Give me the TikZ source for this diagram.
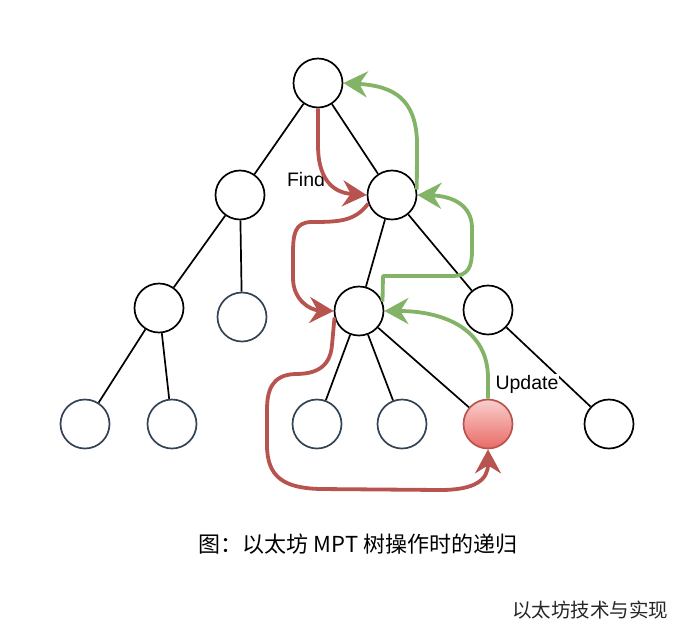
\documentclass[tikz,border=0pt]{standalone}
\usepackage{fontspec}
\setmainfont{Liberation Sans}
\newfontfamily\cjk{Noto Sans CJK SC}
\usetikzlibrary{arrows.meta}
\definecolor{redline}{HTML}{B85450}
\definecolor{greenline}{HTML}{82B366}
\definecolor{darkblue}{HTML}{314354}
\definecolor{redtop}{HTML}{F8CECC}
\definecolor{redbot}{HTML}{EA6B66}
\tikzset{
  nd/.style={circle, draw=black, line width=1.7pt, minimum size=49pt, inner sep=0pt, fill=white},
  ndd/.style={nd, draw=darkblue},
  ndr/.style={nd, draw=redline, top color=redtop, bottom color=redbot},
  edge/.style={line width=1.7pt, black},
  tip/.style={-{Stealth[length=24pt, width=26pt, inset=8pt]}},
  redarrow/.style={tip, draw=redline, line width=3.8pt, line join=round},
  greenarrow/.style={tip, draw=greenline, line width=3.8pt, line join=round},
  lbl/.style={font=\fontsize{19.5}{22}\selectfont, inner sep=0.5pt, fill=white}
}
\begin{document}
\begin{tikzpicture}[x=1pt, y=-1pt]
\useasboundingbox (0,0) rectangle (680,630);
% nodes
\node[nd]  (root) at (318,83) {};
\node[nd]  (l1a)  at (240,195) {};
\node[nd]  (l1b)  at (392,195) {};
\node[nd]  (l2a)  at (159,308) {};
\node[ndd] (l2b)  at (242,317) {};
\node[nd]  (l2c)  at (359,311) {};
\node[nd]  (l2d)  at (488,310) {};
\node[ndd] (l3a)  at (85,424) {};
\node[ndd] (l3b)  at (172,424) {};
\node[ndd] (l3c)  at (317,424) {};
\node[ndd] (l3d)  at (402,424) {};
\node[ndr] (red)  at (488,424) {};
\node[nd]  (l3f)  at (609,424) {};
% edges
\draw[edge] (root) -- (l1a);
\draw[edge] (root) -- (l1b);
\draw[edge] (l1a) -- (l2a);
\draw[edge] (l1a) -- (l2b);
\draw[edge] (l1b) -- (l2c);
\draw[edge] (l1b) -- (l2d);
\draw[edge] (l2a) -- (l3a);
\draw[edge] (l2a) -- (l3b);
\draw[edge] (l2c) -- (l3c);
\draw[edge] (l2c) -- (l3d);
\draw[edge] (l2c) -- (red);
\draw[edge] (l2d) -- (l3f);
% labels
\node[lbl] (find) at (306,180) {Find};
\node[lbl] (upd) at (527,384) {Update};
% red arrows
\draw[redarrow] (root.south) -- (318,145) .. controls (318,185) and (338,193) .. (l1b.west);
\draw[redarrow] (l1b.200) .. controls (355,221) and (340,222) .. (312,222)
  .. controls (294,222) and (293,235) .. (293,255) -- (293,278)
  .. controls (293,300) and (310,310) .. (l2c.west);
\draw[redarrow] (l2c.195) -- (332,345) .. controls (330,370) and (312,374) .. (295,374)
  .. controls (272,375) and (267,390) .. (267,410) -- (267,445)
  .. controls (267,478) and (285,488) .. (320,489) -- (440,490)
  .. controls (475,490) and (488,480) .. (red.south);
% green arrows
\draw[greenarrow] (l1b.12) -- (417,140) .. controls (415,100) and (395,86) .. (root.east);
\draw[greenarrow] (l2c.22) -- (383,276) -- (452,276) .. controls (469,276) and (472,266) .. (472,250)
  -- (472,228) .. controls (472,205) and (452,196) .. (l1b.east);
\draw[greenarrow] (red.north) -- (488,378) .. controls (488,330) and (445,311) .. (l2c.east);
% caption
\node[font=\cjk\fontsize{22}{26}\selectfont, inner sep=0pt] (cap) at (358,544) {图：以太坊 MPT 树操作时的递归};
\node[font=\cjk\fontsize{19.5}{22}\selectfont, inner sep=0pt, text=black!85] (wm) at (590,610) {以太坊技术与实现};
\end{tikzpicture}
\end{document}
